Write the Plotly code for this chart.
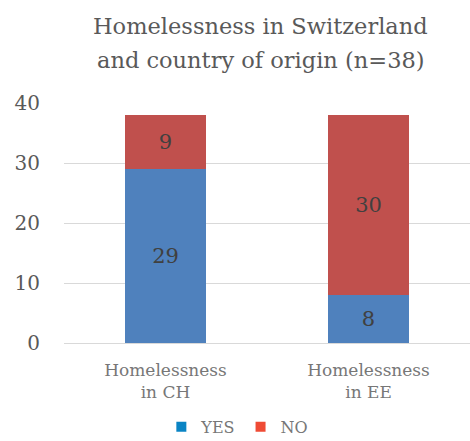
import plotly.graph_objects as go

categories = ["Homelessness<br>in CH", "Homelessness<br>in EE"]
yes_values = [29, 8]
no_values = [9, 30]
series_names = ["YES", "NO"]
bar_colors = ["#4f81bd", "#c0504d"]
legend_colors = ["#0a84c4", "#ef4b35"]
tick_values = [0, 10, 20, 30, 40]
title_lines = ["Homelessness in Switzerland", "and country of origin (n=38)"]

fig = go.Figure()
for name, vals, col in zip(series_names, [yes_values, no_values], bar_colors):
    fig.add_trace(go.Bar(
        x=categories, y=vals, name=name, marker=dict(color=col, line=dict(width=0)),
        text=vals, textposition="inside", insidetextanchor="middle",
        textfont=dict(family="DejaVu Serif", size=21, color="#404040"),
        showlegend=False,
    ))
for name, col in zip(series_names, legend_colors):
    fig.add_trace(go.Scatter(
        x=[None], y=[None], mode="markers", name=name,
        marker=dict(symbol="square", size=10, color=col),
    ))

for line, ypos in zip(title_lines, [1.32, 1.18]):
    fig.add_annotation(
        text=line, xref="paper", yref="paper", x=0.485, y=ypos,
        xanchor="center", yanchor="middle", showarrow=False,
        font=dict(family="DejaVu Serif", size=22.5, color="#595959"),
    )

fig.update_layout(
    width=470, height=441,
    barmode="stack", bargap=0.6,
    plot_bgcolor="white", paper_bgcolor="white",
    margin=dict(l=64, r=0, t=103, b=98, autoexpand=False),
    xaxis=dict(
        tickfont=dict(family="DejaVu Serif", size=17, color="#777777"),
        showline=False, ticks="", ticklabelstandoff=15,
        tickangle=0,
    ),
    yaxis=dict(
        range=[0, 40], tickvals=tick_values,
        tickfont=dict(family="DejaVu Serif", size=20, color="#595959"),
        showgrid=True, gridcolor="#d9d9d9", gridwidth=1,
        zeroline=True, zerolinecolor="#d9d9d9", zerolinewidth=1,
        ticks="", ticklabelstandoff=23,
    ),
    legend=dict(
        orientation="h", traceorder="normal",
        x=0.505, xanchor="center", xref="container",
        y=0.032, yanchor="middle", yref="container",
        font=dict(family="DejaVu Serif", size=16, color="#777777"),
    ),
)

fig.write_html("out.html", config={"displayModeBar": False},
               post_script="document.body.style.margin='0';")
